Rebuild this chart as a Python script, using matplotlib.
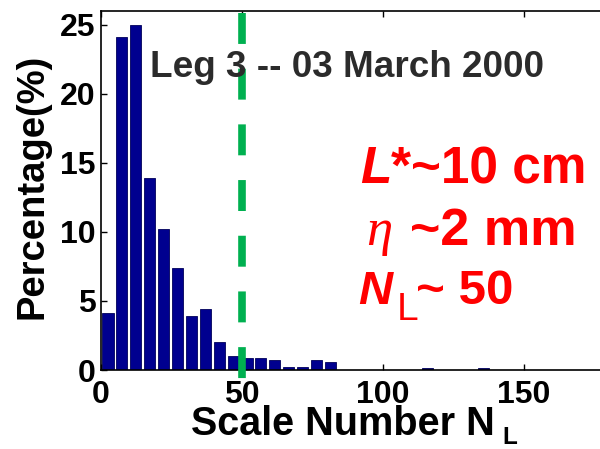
import numpy as np
import matplotlib
matplotlib.use("Agg")
import matplotlib.pyplot as plt

plt.rcParams['font.family'] = ['Liberation Sans', 'DejaVu Sans']
plt.rcParams['font.weight'] = 'bold'

# Histogram of scale numbers (percentage per bin)
bin_width = 4.93
percentages = [4.1, 24.1, 25.0, 13.9, 10.2, 7.4, 3.9, 4.4, 2.0, 1.05,
               0.9, 0.9, 0.72, 0.2, 0.2, 0.72, 0.55, 0, 0, 0,
               0, 0, 0, 0.17, 0, 0, 0, 0.17]
x_ticks = [0, 50, 100, 150]
y_ticks = [0, 5, 10, 15, 20, 25]
threshold = 50
title_text = "Leg 3 -- 03 March 2000"

W, H = 600, 449
fig = plt.figure(figsize=(W / 100, H / 100), dpi=100)


def fx(px):
    return px / W


def fy(py):
    return 1 - py / H


x_max = 180
ax = fig.add_axes([fx(101), fy(370), x_max * 2.82 / W, (370 - 11) / H])

centers = (np.arange(len(percentages)) + 0.5) * bin_width
ax.bar(centers, percentages, width=0.8 * bin_width, color='#00008f',
       edgecolor='#00005a', linewidth=0.6)

ax.set_xlim(0, x_max)
ax.set_ylim(0, 26)
ax.set_xticks(x_ticks)
ax.set_yticks(y_ticks)
ax.tick_params(direction='in', length=4, width=1, labelsize=23,
               top=True, right=True)
ax.tick_params(axis='x', pad=7)
ax.tick_params(axis='y', pad=4)
for lab in ax.get_xticklabels() + ax.get_yticklabels():
    lab.set_fontweight('bold')
for sp in ax.spines.values():
    sp.set_linewidth(1.2)

# dashed threshold line, extending slightly below the axis
ln, = ax.plot([threshold, threshold], [25.87, -0.65], color='#00b050',
              lw=5.5, clip_on=False, solid_capstyle='butt',
              dash_capstyle='butt', zorder=5)
ln.set_dashes((4.05, 3.24))

fig.text(fx(33), fy(186), "Percentage(%)", fontsize=27.5, fontweight='bold',
         rotation=90, ha='center', va='center')

fig.text(fx(191), fy(435), "Scale Number N", fontsize=28.5,
         fontweight='bold', ha='left', va='baseline')
fig.text(fx(502), fy(444), "L", fontsize=17.5, fontweight='bold',
         ha='left', va='baseline')

fig.text(fx(150), fy(77), title_text, fontsize=26.6, fontweight='bold',
         color='#2b2b2b', ha='left', va='baseline')

red = '#ff0000'
# line 1
fig.text(fx(360), fy(183), "L", fontsize=37, fontweight='bold',
         style='italic', color=red, va='baseline')
fig.text(fx(391), fy(183), "*~10 cm", fontsize=37, fontweight='bold',
         color=red, va='baseline')
# line 2
fig.text(fx(366), fy(245), "\u03b7", fontsize=38, style='italic',
         family='Liberation Serif', fontweight='normal', color=red,
         va='baseline')
fig.text(fx(410), fy(245), "~2 mm", fontsize=37.5, fontweight='bold',
         color=red, va='baseline')
# line 3
fig.text(fx(358), fy(304), "N", fontsize=34, fontweight='bold',
         style='italic', color=red, va='baseline')
fig.text(fx(397), fy(320), "L", fontsize=28, fontweight='normal',
         color=red, va='baseline')
fig.text(fx(416), fy(304), "~ 50", fontsize=35.5, fontweight='bold',
         color=red, va='baseline')

fig.savefig("out.png", dpi=100)
